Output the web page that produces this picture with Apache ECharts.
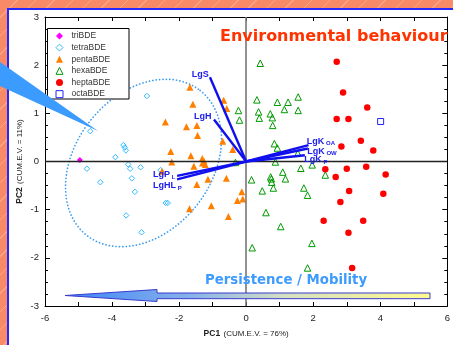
<!DOCTYPE html>
<html><head><meta charset="utf-8">
<script src="https://cdn.jsdelivr.net/npm/echarts@6/dist/echarts.min.js"></script>
<style>
html,body{margin:0;padding:0;width:453px;height:345px;overflow:hidden;}
body{background:repeating-linear-gradient(135deg,#f98a68 0px,#f98a68 12px,#fca688 12px,#fca688 13px);}
#panel{position:absolute;left:7px;top:8px;right:0;bottom:0;background:#fff;border-left:2px solid #2626ff;border-top:2px solid #2626ff;}
#chart{position:absolute;left:0;top:0;width:453px;height:345px;}
</style></head><body><div id="panel"></div><div id="chart"></div>
<script>
// ---- data ----
var triBDE = [[-4.96, 0.03]];
var tetraBDE = [[-2.96,1.36],[-4.65,0.63],[-3.66,0.34],[-3.62,0.29],[-3.59,0.23],[-3.90,0.09],
  [-4.75,-0.15],[-3.52,-0.06],[-3.46,-0.15],[-3.15,-0.12],[-4.35,-0.43],[-3.41,-0.35],
  [-3.32,-0.63],[-2.40,-0.86],[-2.34,-0.86],[-3.58,-1.12],[-3.12,-1.47],[-2.55,-0.18]];
var pentaBDE = [[-1.68,1.54],[-1.59,1.19],[-0.67,1.27],[-0.58,1.10],[-2.41,0.82],[-1.78,0.72],
  [-1.47,0.75],[-1.45,0.54],[-0.70,0.42],[-0.40,0.25],[-2.25,0.21],[-1.65,0.12],[-2.22,-0.01],
  [-1.31,0.06],[-1.26,0.01],[-1.22,-0.06],[-1.30,-0.03],[-2.51,-0.20],[-1.56,-0.10],[-1.14,-0.37],
  [-0.59,-0.35],[-1.47,-0.48],[-1.69,-0.98],[-1.04,-0.92],[-0.53,-1.14],[-0.13,-0.63],
  [-0.26,-0.81],[-0.10,-0.78]];
var hexaBDE = [[0.42,2.04],[0.32,1.28],[0.93,1.23],[1.25,1.23],[1.55,1.34],[1.14,1.08],[1.55,1.06],
  [-0.23,1.06],[-0.20,0.86],[0.37,1.03],[0.39,0.90],[0.72,0.99],[0.78,0.91],[0.79,0.75],
  [0.84,0.37],[0.93,0.28],[1.54,0.17],[-0.32,-0.02],[0.87,-0.01],[1.97,-0.07],[1.63,-0.14],
  [2.36,-0.28],[0.16,-0.38],[0.73,-0.32],[0.75,-0.36],[0.76,-0.43],[1.09,-0.22],[1.17,-0.36],
  [0.81,-0.55],[0.48,-0.61],[1.72,-0.55],[1.83,-0.70],[0.59,-1.06],[1.03,-1.35],[0.18,-1.79],
  [1.96,-1.70],[1.83,-2.21]];
var heptaBDE = [[2.70,2.07],[2.89,1.43],[3.61,1.12],[2.70,0.88],[3.05,0.88],[3.42,0.43],[2.84,0.31],
  [3.79,0.23],[2.36,-0.16],[3.00,-0.15],[3.58,-0.11],[4.16,-0.27],[2.67,-0.32],[3.07,-0.61],
  [4.09,-0.67],[2.81,-0.84],[2.31,-1.23],[3.49,-1.23],[3.05,-1.48],[3.16,-2.21]];
var octaBDE = [[4.01, 0.83]];

var vectorNames = ['LgS','LgH','LgK_OA','LgK_OW','LgK_P','LgP_L','LgHL_P'];
var vectorX = [-1.08, -0.96, 1.86, 1.84, 1.75, -2.06, -2.06];
var vectorY = [1.75, 0.87, 0.34, 0.27, 0.13, -0.30, -0.37];
var vectorLabels = ['{m|LgS}','{m|LgH}','{m|LgK}{s| OA}','{m|LgK}{s| OW}','{m|LgK}{s| P}','{m|LgP}{s| L}','{m|LgHL}{s| P}'];

var xTicks = [-6,-4,-2,0,2,4,6];
var yTicks = [-3,-2,-1,0,1,2,3];
var xName = ['PC1', '(CUM.E.V. = 76%)'];
var yName = ['PC2', '(CUM.E.V. = 11%)'];
var titleText = 'Environmental behaviour';
var arrowText = 'Persistence / Mobility';

// ---- styles ----
var labelPlace = {
  LgS:{align:'right',dx:-1.3,dy:-2.3}, LgH:{align:'right',dx:-2.4,dy:-3.3},
  LgK_OA:{align:'left',dx:-1.7,dy:-3.8}, LgK_OW:{align:'left',dx:-0.6,dy:2.7},
  LgK_P:{align:'left',dx:-0.6,dy:4.3}, LgP_L:{align:'left',dx:-24,dy:-1.5},
  LgHL_P:{align:'left',dx:-24,dy:6.3}
};
var FONT = 'Liberation Sans, Arial, Helvetica, sans-serif';
var vectorData = vectorNames.map(function(n,i){return [vectorX[i], vectorY[i], i];});

var chart = echarts.init(document.getElementById('chart'), null, {renderer:'canvas'});

function xAxisCfg(pos){
  var bottom = pos === 'bottom';
  return {
    type:'value', position:pos, min:xTicks[0], max:xTicks[xTicks.length-1], interval:2,
    axisLine:{show:true,onZero:false,lineStyle:{color:'#000',width:1}},
    axisTick:{show:true,inside:true,length:4,lineStyle:{color:'#000',width:1}},
    minorTick:{show:true,splitNumber:2,length:4,lineStyle:{color:'#000',width:1}},
    splitLine:{show:false},
    axisLabel:{show:bottom,color:'#222',fontSize:9.5,fontFamily:FONT,margin:7},
    name: bottom ? '{b|'+xName[0]+'} {n|'+xName[1]+'}' : '',
    nameLocation:'middle', nameGap:22, nameMoveOverlap:false,
    nameTextStyle:{rich:{b:{fontWeight:'bold',fontSize:8.5,fontFamily:FONT,color:'#222'},
                         n:{fontSize:8,fontFamily:FONT,color:'#222'}}}
  };
}
function yAxisCfg(pos){
  var left = pos === 'left';
  return {
    type:'value', position:pos, min:yTicks[0], max:yTicks[yTicks.length-1], interval:1,
    axisLine:{show:true,onZero:false,lineStyle:{color:'#000',width:1}},
    axisTick:{show:true,inside:true,length:5,lineStyle:{color:'#000',width:1}},
    minorTick:{show:true,splitNumber:4,length:3,lineStyle:{color:'#000',width:1}},
    splitLine:{show:false},
    axisLabel:{show:left,color:'#222',fontSize:9.5,fontFamily:FONT,margin:6},
    name: left ? '{b|'+yName[0]+'} {n|'+yName[1]+'}' : '',
    nameLocation:'middle', nameGap:19, nameRotate:90, nameMoveOverlap:false,
    nameTextStyle:{rich:{b:{fontWeight:'bold',fontSize:8.5,fontFamily:FONT,color:'#222'},
                         n:{fontSize:8,fontFamily:FONT,color:'#222'}}}
  };
}

// ellipse outline (pixel geometry)
var ell = [], ecx = 143.5, ecy = 163, ea = 92, eb = 68, eth = 52*Math.PI/180;
for (var k=0;k<=180;k++){
  var t = k/180*2*Math.PI;
  var u = ea*Math.cos(t), v = eb*Math.sin(t);
  ell.push([ecx + u*Math.cos(eth) + v*Math.sin(eth), ecy - u*Math.sin(eth) + v*Math.cos(eth)]);
}

function scatter(name, data, symbol, size, color, hollow){
  return {
    name:name, type:'scatter', data:data, symbol:symbol, symbolSize:size, z:3,
    itemStyle: hollow ? {color:'rgba(255,255,255,0)', borderColor:color, borderWidth:1, opacity:1}
                      : {color:color, borderWidth:0, opacity:1},
    emphasis:{disabled:true}, silent:true
  };
}

var option = {
  animation:false,
  backgroundColor:'transparent',
  grid:{left:45,right:1,top:17,bottom:38,containLabel:false},
  xAxis:[xAxisCfg('bottom'), xAxisCfg('top')],
  yAxis:[yAxisCfg('left'), yAxisCfg('right')],
  legend:{
    data:['triBDE','tetraBDE','pentaBDE','hexaBDE','heptaBDE','octaBDE'],
    orient:'vertical', left:55.5, top:31.4, padding:0, itemWidth:7, itemHeight:7, itemGap:2.65,
    selectedMode:false, z:6,
    itemStyle:{borderWidth:1},
    textStyle:{fontSize:8.5,fontFamily:FONT,color:'#333', padding:[0,0,0,3.5]}
  },
  series:[
    {type:'line', data:[], z:1, silent:true,
     markLine:{silent:true, symbol:['none','none'], label:{show:false}, animation:false,
       data:[{xAxis:0, lineStyle:{color:'#777',width:1.6,type:'solid'}},
             {yAxis:0, lineStyle:{color:'#222',width:1.3,type:'solid'}}]}},
    scatter('triBDE', triBDE, 'diamond', 6, '#ff00ff', false),
    scatter('tetraBDE', tetraBDE, 'diamond', 5.5, '#33bbff', true),
    scatter('pentaBDE', pentaBDE, 'triangle', 7, '#ff7f00', false),
    scatter('hexaBDE', hexaBDE, 'triangle', 6.5, '#009900', true),
    scatter('heptaBDE', heptaBDE, 'circle', 6.5, '#ff0000', false),
    scatter('octaBDE', octaBDE, 'rect', 6, '#2222ff', true),
    {type:'custom', name:'vectors', data:vectorData, z:5, silent:true,
     renderItem:function(params, api){
       var i = api.value(2);
       var o = api.coord([0,0]);
       var p = api.coord([api.value(0), api.value(1)]);
       var pl = labelPlace[vectorNames[i]];
       return {type:'group', children:[
         {type:'line', shape:{x1:o[0],y1:o[1],x2:p[0],y2:p[1]},
          style:{stroke:'#1010ee',lineWidth:2.4}},
         {type:'text', x:p[0]+pl.dx, y:p[1]+pl.dy,
          style:{text:vectorLabels[i], align:pl.align, verticalAlign:'middle',
            rich:{m:{fontSize:9,fontWeight:'bold',fontFamily:FONT,fill:'#2020ee',lineHeight:11},
                  s:{fontSize:6,fontWeight:'bold',fontFamily:FONT,fill:'#2020ee',lineHeight:6,verticalAlign:'bottom'}}}}
       ]};
     }}
  ],
  graphic:[
    {type:'rect', shape:{x:47.5,y:28.5,width:81.5,height:70.5}, style:{fill:'#fff',stroke:'#000',lineWidth:1}, z:4},
    {type:'polygon', shape:{points:ell}, style:{fill:null,stroke:'#3b9cf0',lineWidth:1.7,lineDash:[0.1,3.3],lineCap:'round'}, z:2, silent:true},
    {type:'polygon', shape:{points:[[65,295.5],[157,289.5],[157,293],[430,293],[430,298.7],[157,298.7],[157,301.5]]},
     style:{fill:new echarts.graphic.LinearGradient(0,0,1,0,[
       {offset:0,color:'#3d86f8'},{offset:0.35,color:'#8ab2ea'},{offset:0.6,color:'#d4e0c2'},{offset:1,color:'#fffa8e'}]),
       stroke:'#3a3acc',lineWidth:1}, z:8, silent:true},
    {type:'polygon', shape:{points:[[0,62],[0,86],[98,131]]}, style:{fill:'#3b9bff'}, z:9, silent:true},
    {type:'text', x:220, y:37, style:{text:titleText, fill:'#ff3300', font:'bold 16px "DejaVu Sans", Verdana, sans-serif', verticalAlign:'middle'}, z:10},
    {type:'text', x:205, y:281, style:{text:arrowText, fill:'#3d9bff', font:'bold 13.3px "DejaVu Sans", Verdana, sans-serif', verticalAlign:'middle'}, z:10}
  ]
};
chart.setOption(option);
</script></body></html>
